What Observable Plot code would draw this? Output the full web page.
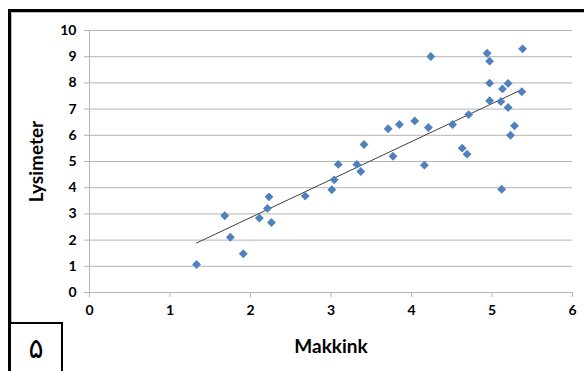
<!DOCTYPE html>
<html>
<head>
<meta charset="utf-8">
<script src="https://cdn.jsdelivr.net/npm/d3@7"></script>
<script src="https://cdn.jsdelivr.net/npm/@observablehq/plot@0.6"></script>
<style>
  html, body { margin: 0; padding: 0; background: #fff; }
  #wrap { position: relative; width: 584px; height: 371px; overflow: hidden; background: #fff; }
  #chart { position: absolute; left: 0; top: 0; }
  #frame { position: absolute; left: 8px; top: 9px; width: 700px; height: 500px;
           border-top: 3px solid #000; border-left: 3px solid #000;
           box-shadow: inset 1px 1px 0 #bbb; pointer-events: none; }
  #numbox { position: absolute; left: 9px; top: 322px; width: 50px; height: 80px;
            border: 2px solid #000; background: #fff;
            font-family: "DejaVu Sans", sans-serif; font-size: 28px; line-height: 1; }
  #numbox span { position: absolute; left: 0; width: 50px; top: 11px; text-align: center; }
</style>
</head>
<body>
<div id="wrap">
  <div id="chart"></div>
  <div id="frame"></div>
  <div id="numbox"><span>۵</span></div>
</div>
<script>
const xTicks = [0, 1, 2, 3, 4, 5, 6];
const yTicks = [0, 1, 2, 3, 4, 5, 6, 7, 8, 9, 10];
const xLabel = "Makkink";
const yLabel = "Lysimeter";
const makkink = [1.33, 1.68, 1.75, 1.91, 2.11, 2.21, 2.23, 2.26, 2.68, 3.01,
                 3.04, 3.09, 3.32, 3.37, 3.41, 3.71, 3.77, 3.85, 4.04, 4.16,
                 4.21, 4.24, 4.51, 4.63, 4.69, 4.71, 4.94, 4.97, 4.97, 4.97,
                 5.11, 5.12, 5.13, 5.20, 5.20, 5.23, 5.28, 5.37, 5.38];
const lysimeter = [1.07, 2.93, 2.11, 1.48, 2.84, 3.21, 3.65, 2.67, 3.68, 3.92,
                   4.30, 4.89, 4.89, 4.62, 5.65, 6.25, 5.20, 6.41, 6.55, 4.86,
                   6.30, 9.01, 6.41, 5.51, 5.28, 6.79, 9.13, 8.83, 7.99, 7.32,
                   7.29, 3.94, 7.77, 7.98, 7.06, 6.00, 6.36, 7.66, 9.30];
// linear trendline end points as drawn in the reference
const trendX = [1.33, 5.38];
const trendY = [1.89, 7.76];

const data = makkink.map((m, i) => ({m, l: lysimeter[i]}));
const trend = trendX.map((m, i) => ({m, l: trendY[i]}));

const gridColor = "#b4b4b4";
const plot = Plot.plot({
  width: 584,
  height: 371,
  marginLeft: 89,
  marginRight: 12,
  marginTop: 30,
  marginBottom: 79,
  style: {fontFamily: "Lato, sans-serif", fontSize: "14px", fontWeight: "bold", color: "#000", background: "transparent"},
  x: {domain: [0, 6]},
  y: {domain: [0, 10]},
  marks: [
    Plot.gridY(yTicks, {stroke: gridColor, strokeOpacity: 1, strokeWidth: 1}),
    Plot.ruleX([0], {stroke: gridColor, strokeWidth: 1}),
    Plot.axisY(yTicks, {tickSize: 5, tickPadding: 8, stroke: gridColor, fill: "#000",
      label: yLabel, labelAnchor: "center", labelArrow: "none", labelOffset: 60,
      fontSize: 14}),
    Plot.axisX(xTicks, {tickSize: 5, tickPadding: 8, stroke: gridColor, fill: "#000",
      label: xLabel, labelAnchor: "center", labelArrow: "none", labelOffset: 60,
      fontSize: 14}),
    Plot.line(trend, {x: "m", y: "l", stroke: "#404040", strokeWidth: 1}),
    Plot.dot(data, {x: "m", y: "l", symbol: "diamond2", r: 4, fill: "#4F81BD", stroke: "none"})
  ]
});
document.getElementById("chart").appendChild(plot);
plot.querySelectorAll("g[aria-label='y-axis label'] text, g[aria-label='x-axis label'] text").forEach(t => {
  t.setAttribute("font-size", "19");
});
</script>
</body>
</html>
